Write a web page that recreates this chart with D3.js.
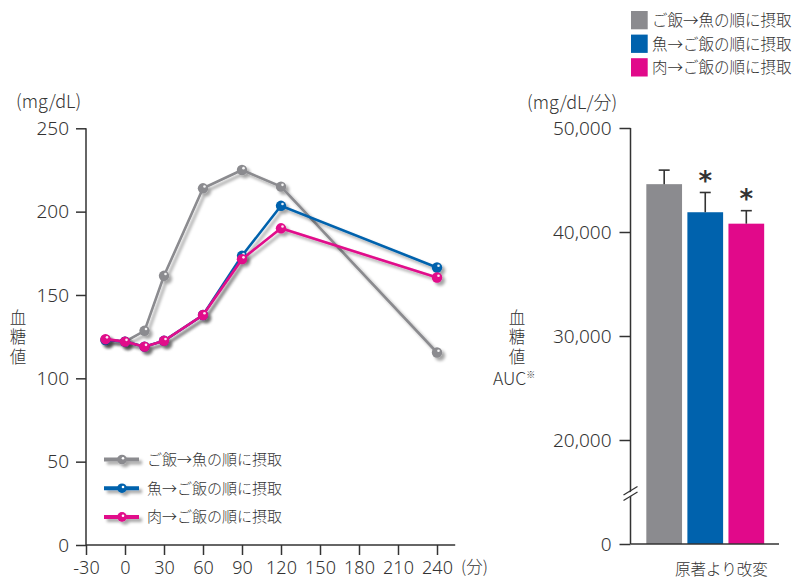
<!DOCTYPE html>
<html><head><meta charset="utf-8">
<script src="https://cdn.jsdelivr.net/npm/d3@7/dist/d3.min.js"></script>
<style>
html,body{margin:0;padding:0;background:#fff;overflow:hidden}
text{font-family:"Noto Sans CJK JP","Noto Sans",sans-serif;fill:#333;font-weight:300}
</style></head>
<body>
<svg id="c" width="798" height="579"></svg>
<script>
// ---- data ----
const times = [-15, 0, 15, 30, 60, 90, 120, 240];
const seriesNames = ["ご飯→魚の順に摂取", "魚→ご飯の順に摂取", "肉→ご飯の順に摂取"];
const seriesColors = ["#8b8b8f", "#0062ad", "#e1098a"];
const riceFirst = [123, 122, 128.5, 161.5, 214, 225, 215, 115.5];
const fishFirst = [123, 122, 119, 122.5, 138, 173.5, 203.5, 166.5];
const meatFirst = [123.5, 122, 119, 122.5, 138, 171.5, 190, 160.5];
const glucoseTicks = [0, 50, 100, 150, 200, 250];
const timeTicks = [-30, 0, 30, 60, 90, 120, 150, 180, 210, 240];
const aucValues = [44600, 41900, 40800];
const aucErrors = [1350, 1900, 1250];
const aucSignificant = [false, true, true];
const aucTicks = [0, 20000, 30000, 40000, 50000];

const svg = d3.select("#c");
const defs = svg.append("defs");
const f = defs.append("filter").attr("id","sh").attr("x","-50%").attr("y","-50%").attr("width","200%").attr("height","200%");
f.append("feDropShadow").attr("dx",3).attr("dy",3).attr("stdDeviation",1.8).attr("flood-color","#000").attr("flood-opacity",0.35);

// ---- left chart ----
const x = d3.scaleLinear().domain([-30, 240]).range([86, 437]);
const y = d3.scaleLinear().domain([0, 250]).range([545, 128.3]);
const axisColor = "#333";

const gy = svg.append("g").attr("transform","translate(86,0)")
  .call(d3.axisLeft(y).tickValues(glucoseTicks).tickSize(10).tickSizeOuter(0).tickPadding(7).tickFormat(d=>String(d)));
gy.select(".domain").remove();
gy.selectAll(".tick line").attr("stroke",axisColor).attr("stroke-width",1.5);
gy.selectAll(".tick text").attr("font-size",19).style("font-family","'Noto Sans',sans-serif").attr("fill","#333");
svg.append("line").attr("x1",86).attr("x2",86).attr("y1",y(250)).attr("y2",y(0)).attr("stroke",axisColor).attr("stroke-width",1.5);

const gx = svg.append("g").attr("transform","translate(0,545)")
  .call(d3.axisBottom(x).tickValues(timeTicks).tickSize(10).tickSizeOuter(0).tickPadding(12).tickFormat(d=>String(d)));
gx.select(".domain").remove();
gx.selectAll(".tick line").attr("stroke",axisColor).attr("stroke-width",1.5);
gx.selectAll(".tick text").attr("font-size",18).style("font-family","'Noto Sans',sans-serif").attr("fill","#333")
  .attr("dy",null).attr("y",null).attr("transform","translate(0,28.5)");
svg.append("line").attr("x1",x(-30)).attr("x2",x(254)).attr("y1",545).attr("y2",545).attr("stroke",axisColor).attr("stroke-width",1.5);
svg.append("text").attr("x",x(240)+24).attr("y",573).attr("font-size",16.5).text("(分)");

svg.append("text").attr("x",16).attr("y",108).attr("font-size",18).text("(mg/dL)");
svg.append("text").attr("x",18).attr("y",309).attr("writing-mode","vertical-rl").attr("font-size",16.5)
  .attr("letter-spacing",3).text("血糖値");

const seriesData = [riceFirst, fishFirst, meatFirst];
const line = d3.line().x(d=>x(d[0])).y(d=>y(d[1]));
seriesData.forEach((vals,si)=>{
  const pts = times.map((t,i)=>[t, vals[i]]);
  const g = svg.append("g").attr("filter","url(#sh)");
  g.append("path").attr("d",line(pts)).attr("fill","none").attr("stroke",seriesColors[si]).attr("stroke-width",2.6);
  g.selectAll("circle.m").data(pts).join("circle").attr("cx",d=>x(d[0])).attr("cy",d=>y(d[1])).attr("r",5.2).attr("fill",seriesColors[si]);
  svg.append("g").selectAll("circle").data(pts).join("circle").attr("cx",d=>x(d[0])+1.5).attr("cy",d=>y(d[1])-1.8).attr("r",1.3).attr("fill","#fff").attr("opacity",0.9);
});

// left legend
seriesNames.forEach((n,i)=>{
  const yy = 459.5 + i*28.7;
  const g = svg.append("g").attr("filter","url(#sh)");
  g.append("line").attr("x1",104).attr("x2",139).attr("y1",yy).attr("y2",yy).attr("stroke",seriesColors[i]).attr("stroke-width",4);
  g.append("circle").attr("cx",122).attr("cy",yy).attr("r",4.8).attr("fill",seriesColors[i]);
  svg.append("circle").attr("cx",123).attr("cy",yy-1.2).attr("r",1.3).attr("fill","#fff");
  svg.append("text").attr("x",147).attr("y",yy+5.5).attr("font-size",15).text(n);
});

// ---- right chart ----
const yb = d3.scaleLinear().domain([0, 20000, 50000]).range([544, 440, 128]);
const xb = d3.scaleBand().domain(seriesNames).range([645.5, 765]).paddingInner(0.13).paddingOuter(0.02);

const gyb = svg.append("g").attr("transform","translate(630.5,0)")
  .call(d3.axisLeft(yb).tickValues(aucTicks).tickSize(11).tickSizeOuter(0).tickPadding(8).tickFormat(d=>d===0?"0":d3.format(",")(d)));
gyb.select(".domain").remove();
gyb.selectAll(".tick line").attr("stroke",axisColor).attr("stroke-width",1.5);
gyb.selectAll(".tick text").attr("font-size",19).style("font-family","'Noto Sans',sans-serif").attr("fill","#333");

svg.selectAll("rect.bar").data(aucValues).join("rect").attr("class","bar")
  .attr("x",(d,i)=>xb(seriesNames[i])).attr("width",xb.bandwidth())
  .attr("y",d=>yb(d)).attr("height",d=>yb(0)-yb(d)).attr("fill",(d,i)=>seriesColors[i]);

svg.append("line").attr("x1",630.5).attr("x2",630.5).attr("y1",yb(50000)).attr("y2",yb(0)).attr("stroke",axisColor).attr("stroke-width",1.5);
svg.append("line").attr("x1",630.5).attr("x2",779).attr("y1",yb(0)).attr("y2",yb(0)).attr("stroke",axisColor).attr("stroke-width",1.5);
// axis break
const by = 493;
svg.append("polygon").attr("points",`${624},${by+3} ${637},${by-5} ${637},${by-1} ${624},${by+7}`).attr("fill","#fff");
svg.append("line").attr("x1",623.5).attr("y1",by+2).attr("x2",637.5).attr("y2",by-6.5).attr("stroke",axisColor).attr("stroke-width",1.3);
svg.append("line").attr("x1",623.5).attr("y1",by+7.5).attr("x2",637.5).attr("y2",by-1).attr("stroke",axisColor).attr("stroke-width",1.3);

// error bars
aucValues.forEach((v,i)=>{
  const cx = xb(seriesNames[i]) + xb.bandwidth()/2;
  const top = yb(v + aucErrors[i]);
  svg.append("line").attr("x1",cx).attr("x2",cx).attr("y1",yb(v)).attr("y2",top).attr("stroke","#333").attr("stroke-width",1.6);
  svg.append("line").attr("x1",cx-5.5).attr("x2",cx+5.5).attr("y1",top).attr("y2",top).attr("stroke","#333").attr("stroke-width",1.6);
  if (aucSignificant[i]) {
    svg.append("text").attr("x",cx).attr("y",top-3).attr("text-anchor","middle").attr("font-size",26)
      .style("font-family","'DejaVu Sans',sans-serif").style("font-weight","bold").attr("fill","#333").attr("dy","0.62em").attr("transform",`translate(0,-16)`).text("*");
  }
});

svg.append("text").attr("x",527).attr("y",109).attr("font-size",18).text("(mg/dL/分)");
svg.append("text").attr("x",517).attr("y",309).attr("writing-mode","vertical-rl").attr("font-size",16.5)
  .attr("letter-spacing",3).text("血糖値");
const auc = svg.append("text").attr("x",493).attr("y",385).attr("font-size",17.5);
auc.append("tspan").text("AUC");
auc.append("tspan").attr("font-size",9).attr("dy",-7).text("※");
svg.append("text").attr("x",675).attr("y",575).attr("font-size",15.5).text("原著より改変");

// top legend
seriesNames.forEach((n,i)=>{
  const yy = 11 + i*23.6;
  svg.append("rect").attr("x",631).attr("y",yy).attr("width",16.7).attr("height",18.3).attr("fill",seriesColors[i]);
  svg.append("text").attr("x",652).attr("y",yy+15).attr("font-size",15.5).text(n);
});
</script>
</body></html>
